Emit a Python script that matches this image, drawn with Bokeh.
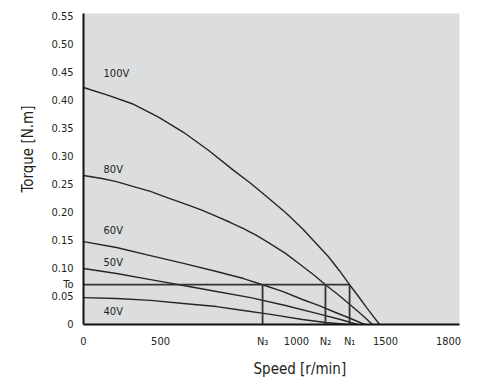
from bokeh.plotting import figure
from bokeh.models import FixedTicker, Range1d, Label, Title, AllLabels
from bokeh.embed import file_html
from bokeh.resources import INLINE

# ---- data ----
voltages = ["100V", "80V", "60V", "50V", "40V"]

speed_100v = [0, 123, 247, 370, 493, 616, 740, 824, 907, 996, 1080, 1144, 1208, 1262, 1312,
              1356, 1396, 1430, 1460]
torque_100v = [0.423, 0.409, 0.393, 0.370, 0.343, 0.311, 0.275, 0.252, 0.227, 0.200, 0.171, 0.146,
               0.121, 0.096, 0.071, 0.050, 0.030, 0.014, 0.0]

speed_80v = [0, 84, 163, 247, 330, 409, 493, 577, 656, 725, 789, 853, 912, 996, 1080, 1139, 1193,
             1253, 1312, 1371, 1425]
torque_80v = [0.266, 0.261, 0.255, 0.246, 0.2375, 0.227, 0.216, 0.205, 0.193, 0.182, 0.171, 0.159,
              0.146, 0.127, 0.104, 0.0875, 0.071, 0.054, 0.036, 0.018, 0.0]

speed_60v = [0, 163, 330, 493, 656, 789, 883, 981, 1080, 1159, 1243, 1317, 1386]
torque_60v = [0.148, 0.1375, 0.123, 0.109, 0.0946, 0.082, 0.071, 0.059, 0.0446, 0.034, 0.0214,
              0.0107, 0.0]

speed_50v = [0, 163, 330, 493, 656, 824, 996, 1169, 1267, 1351]
torque_50v = [0.100, 0.091, 0.080, 0.0696, 0.059, 0.048, 0.034, 0.018, 0.0089, 0.0]

speed_40v = [0, 163, 330, 493, 656, 789, 922, 1080, 1193, 1302]
torque_40v = [0.048, 0.0464, 0.043, 0.0375, 0.032, 0.025, 0.018, 0.009, 0.0036, 0.0]

rated_torque = 0.071          # "To"
n_points = [883, 1193, 1312]  # N3, N2, N1

y_tick_values = [0, 0.05, rated_torque, 0.10, 0.15, 0.20, 0.25, 0.30, 0.35, 0.40, 0.45, 0.50, 0.55]
y_tick_labels = ["0", "0.05", "To", "0.10", "0.15", "0.20", "0.25", "0.30", "0.35", "0.40", "0.45",
                 "0.50", "0.55"]

x_tick_values = [0, 380, n_points[0], 1050, n_points[1], n_points[2], 1489, 1800]
x_tick_labels = ["0", "500", "N\u2083", "1000", "N\u2082", "N\u2081", "1500", "1800"]

label_torque = [0.448, 0.277, 0.168, 0.111, 0.023]

# ---- styling ----
FONT = "DejaVu Sans Condensed"
INK = "#231f20"
LINE = "#262626"

p = figure(width=477, height=388, output_backend="svg", toolbar_location=None,
           x_range=Range1d(0, 1854), y_range=Range1d(0, 0.555),
           min_border_left=83, min_border_right=18, min_border_top=13, min_border_bottom=64)
p.background_fill_color = "#dcdddf"
p.border_fill_color = "white"
p.outline_line_color = None
p.grid.visible = False

curves = [(speed_100v, torque_100v), (speed_80v, torque_80v), (speed_60v, torque_60v),
          (speed_50v, torque_50v), (speed_40v, torque_40v)]
for (xs, ys) in curves:
    p.line(xs, ys, line_color=LINE, line_width=1.4, line_join="round")

# rated torque box
p.segment(x0=[0] + n_points, y0=[rated_torque, 0, 0, 0],
          x1=[n_points[2]] + n_points, y1=[rated_torque] * 4,
          line_color="#333333", line_width=1.8)

for name, ty in zip(voltages, label_torque):
    p.add_layout(Label(x=99, y=ty, text=name, text_font=FONT, text_font_size="11px",
                       text_color=INK, text_baseline="middle", text_align="left"))

for ax in (p.xaxis[0], p.yaxis[0]):
    ax.axis_line_color = "#111111"
    ax.axis_line_width = 2
    ax.major_tick_line_color = None
    ax.minor_tick_line_color = None
    ax.major_tick_out = 0
    ax.major_tick_in = 0
    ax.major_label_text_font = FONT
    ax.major_label_text_font_size = "11px"
    ax.major_label_text_color = INK
    ax.major_label_policy = AllLabels()

p.yaxis.ticker = FixedTicker(ticks=y_tick_values)
p.yaxis.major_label_overrides = dict(zip(y_tick_values, y_tick_labels))
p.yaxis.major_label_standoff = 10

p.xaxis.ticker = FixedTicker(ticks=x_tick_values)
p.xaxis.major_label_overrides = dict(zip(x_tick_values, x_tick_labels))
p.xaxis.major_label_standoff = 10

p.add_layout(Title(text="Torque [N.m]", align="left", offset=132, text_font=FONT,
                   text_font_size="15px", text_font_style="normal", text_color=INK,
                   standoff=24), "left")
p.add_layout(Title(text="Speed [r/min]", align="left", offset=170, text_font=FONT,
                   text_font_size="15px", text_font_style="normal", text_color=INK,
                   standoff=15), "below")

open("out.html", "w").write(file_html(p, INLINE))
